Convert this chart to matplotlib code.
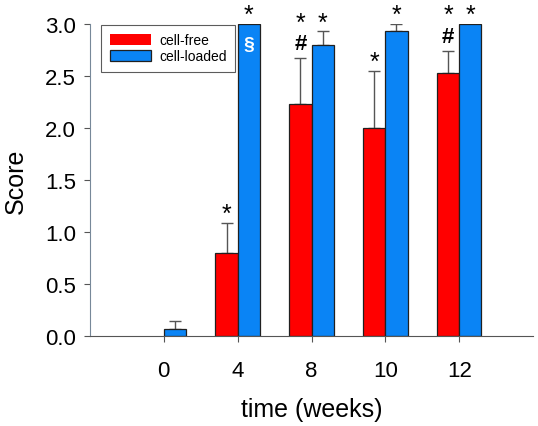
import matplotlib.pyplot as plt
import numpy as np

plt.rcParams['font.family'] = ['Liberation Sans', 'DejaVu Sans']

weeks = ["0", "4", "8", "10", "12"]
cell_free = [0.0, 0.80, 2.23, 2.00, 2.53]
cell_free_err = [0.0, 0.29, 0.44, 0.55, 0.21]
cell_loaded = [0.07, 3.0, 2.80, 2.93, 3.0]
cell_loaded_err = [0.07, 0.0, 0.13, 0.07, 0.0]

# marks above bars, read from bottom to top
free_marks = ["", "*", "#*", "*", "#*"]
loaded_marks = ["", "*", "*", "*", "*"]

x = np.arange(len(weeks))
w = 0.3

fig = plt.figure(figsize=(5.38, 4.27), dpi=100)
ax = fig.add_axes([0.167, 0.211, 0.824, 0.730])

edge_free = ["none" if v == 0 else "#202020" for v in cell_free]
ax.bar(x - w / 2, cell_free, w, color="#ff0000", edgecolor=edge_free,
       linewidth=0.9, label="cell-free", zorder=2)
ax.bar(x + w / 2, cell_loaded, w, color="#0a84f5", edgecolor="#202020",
       linewidth=0.9, label="cell-loaded", zorder=2)

for xs, vals, errs in [(x - w / 2, cell_free, cell_free_err),
                       (x + w / 2, cell_loaded, cell_loaded_err)]:
    for xi, v, e in zip(xs, vals, errs):
        if e > 0:
            ax.errorbar(xi, v, yerr=[[0], [e]], fmt="none", ecolor="#555555",
                        elinewidth=1, capsize=4, capthick=1, zorder=1)


def marks(xs, vals, errs, labels):
    for xi, v, e, lab in zip(xs, vals, errs, labels):
        y = v + e + 0.04
        for ch in lab:
            if ch == "*":
                ax.text(xi, y - 0.07, "*", ha="center", va="bottom",
                        fontsize=18, clip_on=False)
                y += 0.25
            else:
                ax.text(xi, y, "#", ha="center", va="bottom",
                        fontsize=16, fontweight="bold", clip_on=False)
                y += 0.26


marks(x - w / 2, cell_free, cell_free_err, free_marks)
marks(x + w / 2, cell_loaded, cell_loaded_err, loaded_marks)

ax.text(x[1] + w / 2, 2.8, "§", color="white", ha="center", va="center",
        fontsize=14, fontweight="bold")

ax.set_xlim(-1, 5)
ax.set_ylim(0, 3.0)
ax.set_xticks(x)
ax.set_xticklabels(weeks)
yt = np.arange(0, 3.01, 0.5)
ax.set_yticks(yt)
ax.set_yticklabels([f"{t:.1f}" for t in yt])
ax.tick_params(labelsize=16, length=4, color="#555555", direction="out")
ax.tick_params(axis="y", pad=6)
ax.tick_params(axis="x", pad=13)
ax.spines["top"].set_visible(False)
ax.spines["right"].set_visible(False)
ax.spines["left"].set_color("#778899")
ax.spines["bottom"].set_color("#555555")

ax.set_ylabel("Score", fontsize=18, labelpad=12)
ax.set_xlabel("time (weeks)", fontsize=18, labelpad=12)

leg = ax.legend(loc="upper left", bbox_to_anchor=(0.01, 1.02), fontsize=10,
                frameon=True, fancybox=False, edgecolor="#333333",
                handlelength=3.0, handleheight=0.8, borderpad=0.6,
                labelspacing=0.15, handletextpad=0.6)
leg.get_frame().set_linewidth(0.8)

fig.savefig("out.png", dpi=100)
